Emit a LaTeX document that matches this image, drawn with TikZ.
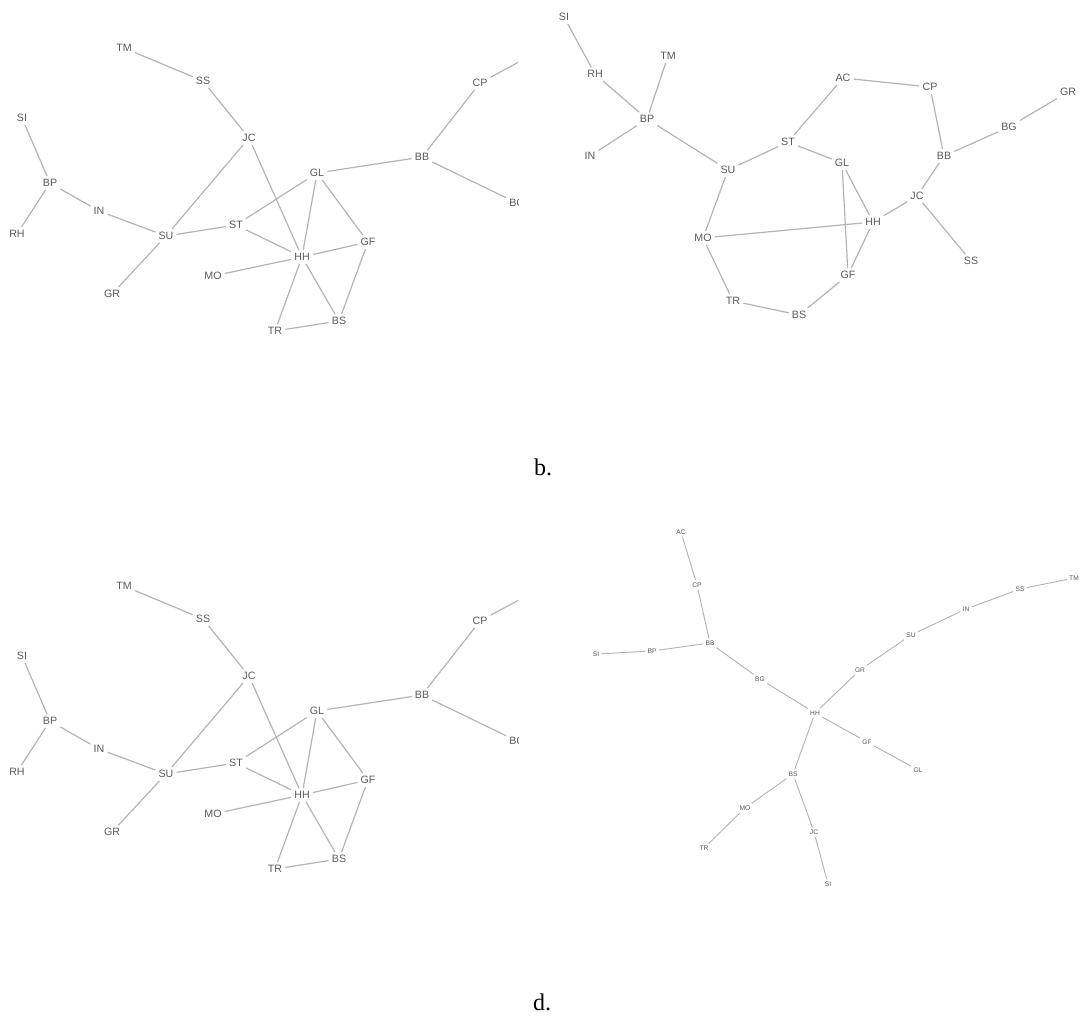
\documentclass[tikz,border=0pt]{standalone}
\usepackage{fontspec}
\setmainfont{Liberation Serif}
\newfontfamily\lblfont{Liberation Sans}
\definecolor{edgegray}{HTML}{B4B4B4}
\definecolor{txtgray}{HTML}{5A5A5A}
\tikzset{
  vtx/.style={font=\lblfont\fontsize{8}{8}\selectfont, text=txtgray, inner sep=2.2pt},
  svtx/.style={font=\lblfont\fontsize{5}{5}\selectfont, text=txtgray, inner sep=1.6pt},
  edge/.style={draw=edgegray, line width=0.9pt},
  sedge/.style={draw=edgegray, line width=0.7pt},
  captext/.style={font=\fontsize{18}{18}\selectfont, text=black}
}
\newcommand\panelleft{%
  \node[vtx] (TM) at (124,48) {TM};
  \node[vtx] (SS) at (203,81) {SS};
  \node[vtx] (JC) at (249,138) {JC};
  \node[vtx] (SI) at (22,118) {SI};
  \node[vtx] (BP) at (50,183) {BP};
  \node[vtx] (RH) at (17,234) {RH};
  \node[vtx] (IN) at (99,211) {IN};
  \node[vtx] (SU) at (166,236) {SU};
  \node[vtx] (ST) at (236,225) {ST};
  \node[vtx] (MO) at (213,276) {MO};
  \node[vtx] (GR) at (112,294) {GR};
  \node[vtx] (CP) at (480,83) {CP};
  \node[vtx] (BB) at (422,157) {BB};
  \node[vtx] (GL) at (317,173) {GL};
  \node[vtx] (BG) at (517,203) {BG};
  \node[vtx] (GF) at (368,242) {GF};
  \node[vtx] (HH) at (302,257) {HH};
  \node[vtx] (BS) at (339,321) {BS};
  \node[vtx] (TR) at (275,331) {TR};
  \node[vtx] (AC) at (552,44) {AC};
  \draw[edge] (TM)--(SS) (SS)--(JC) (JC)--(SU) (JC)--(HH)
    (SI)--(BP) (BP)--(RH) (BP)--(IN) (IN)--(SU) (SU)--(GR) (SU)--(ST)
    (ST)--(GL) (ST)--(HH) (MO)--(HH) (GL)--(HH) (GL)--(GF) (GL)--(BB)
    (HH)--(GF) (HH)--(TR) (HH)--(BS) (GF)--(BS) (TR)--(BS)
    (BB)--(CP) (BB)--(BG) (CP)--(AC);
}
\begin{document}
\begin{tikzpicture}[x=0.75pt,y=-0.75pt]
\useasboundingbox[fill=white] (0,0) rectangle (1081,1021);
% panel a (top left)
\begin{scope}[name prefix=a-]
  \clip (0,0) rectangle (518,380);
  \panelleft
\end{scope}
% panel c (bottom left)
\begin{scope}[name prefix=c-, yshift=-538*0.75pt]
  \clip (0,0) rectangle (518,380);
  \panelleft
\end{scope}
% panel b (top right)
\begin{scope}[name prefix=b-]
  \node[vtx] (SI) at (564,17) {SI};
  \node[vtx] (RH) at (595,74) {RH};
  \node[vtx] (TM) at (668,56) {TM};
  \node[vtx] (BP) at (647,119) {BP};
  \node[vtx] (IN) at (590,156) {IN};
  \node[vtx] (SU) at (728,170) {SU};
  \node[vtx] (ST) at (788,142) {ST};
  \node[vtx] (MO) at (703,238) {MO};
  \node[vtx] (TR) at (733,301) {TR};
  \node[vtx] (BS) at (799,315) {BS};
  \node[vtx] (AC) at (843,78) {AC};
  \node[vtx] (CP) at (930,87) {CP};
  \node[vtx] (GR) at (1068,92) {GR};
  \node[vtx] (BG) at (1009,127) {BG};
  \node[vtx] (BB) at (944,156) {BB};
  \node[vtx] (GL) at (842,163) {GL};
  \node[vtx] (JC) at (917,196) {JC};
  \node[vtx] (HH) at (873,222) {HH};
  \node[vtx] (SS) at (971,261) {SS};
  \node[vtx] (GF) at (848,275) {GF};
  \draw[edge] (SI)--(RH) (RH)--(BP) (TM)--(BP) (IN)--(BP) (BP)--(SU)
    (SU)--(ST) (SU)--(MO) (ST)--(AC) (ST)--(GL) (AC)--(CP) (CP)--(BB)
    (BB)--(BG) (BG)--(GR) (BB)--(JC) (JC)--(HH) (JC)--(SS)
    (GL)--(HH) (GL)--(GF) (HH)--(GF) (MO)--(HH) (MO)--(TR) (TR)--(BS) (BS)--(GF);
\end{scope}
% panel d (bottom right)
\begin{scope}[name prefix=d-]
  \node[svtx] (AC) at (681,532) {AC};
  \node[svtx] (CP) at (697,585) {CP};
  \node[svtx] (BB) at (710,643) {BB};
  \node[svtx] (BP) at (652,651) {BP};
  \node[svtx] (SI) at (596,654) {SI};
  \node[svtx] (BG) at (760,679) {BG};
  \node[svtx] (HH) at (815,713) {HH};
  \node[svtx] (BS) at (793,774) {BS};
  \node[svtx] (MO) at (745,808) {MO};
  \node[svtx] (TR) at (704,848) {TR};
  \node[svtx] (JC) at (814,832) {JC};
  \node[svtx] (SIb) at (828,884) {SI};
  \node[svtx] (TM) at (1074,578) {TM};
  \node[svtx] (SS) at (1020,589) {SS};
  \node[svtx] (IN) at (966,609) {IN};
  \node[svtx] (SU) at (911,635) {SU};
  \node[svtx] (GR) at (860,670) {GR};
  \node[svtx] (GF) at (867,742) {GF};
  \node[svtx] (GL) at (918,770) {GL};
  \draw[sedge] (AC)--(CP) (CP)--(BB) (BB)--(BP) (BP)--(SI) (BB)--(BG)
    (BG)--(HH) (HH)--(GR) (GR)--(SU) (SU)--(IN) (IN)--(SS) (SS)--(TM)
    (HH)--(GF) (GF)--(GL) (HH)--(BS) (BS)--(MO) (MO)--(TR) (BS)--(JC) (JC)--(SIb);
\end{scope}
\node[captext] (capb) at (543,467) {b.};
\node[captext] (capd) at (542,1002) {d.};
\end{tikzpicture}
\end{document}
